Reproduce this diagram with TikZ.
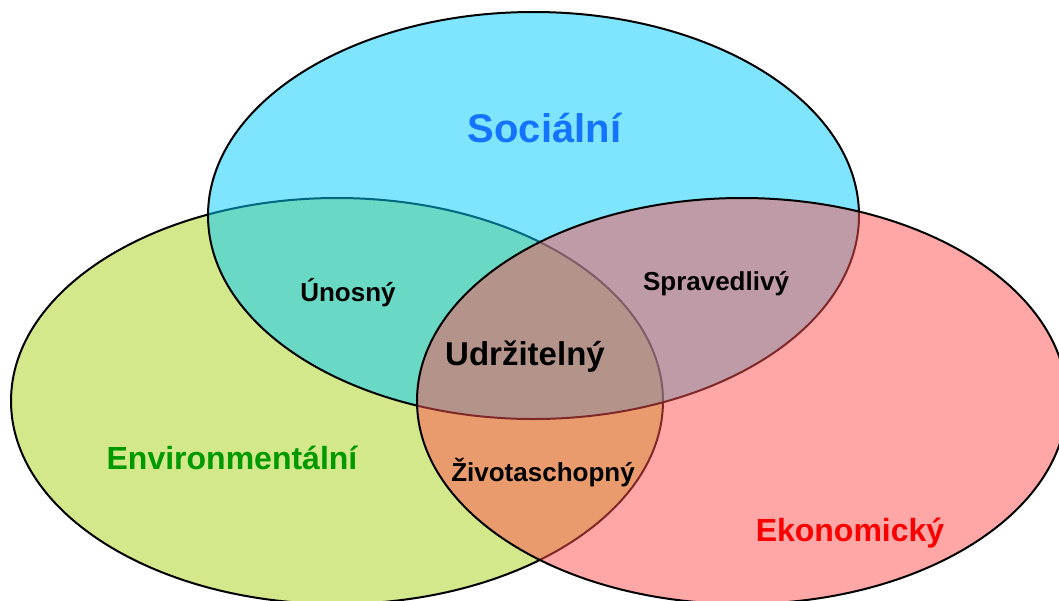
\documentclass[tikz,border=0pt]{standalone}
\usepackage{fontspec}
\setmainfont{Liberation Sans}
\definecolor{envfill}{RGB}{169,209,25}
\definecolor{socfill}{RGB}{0,205,255}
\definecolor{ekofill}{RGB}{255,81,81}
\definecolor{soctext}{RGB}{20,115,255}
\definecolor{envtext}{RGB}{0,153,0}
\definecolor{ekotext}{RGB}{250,0,0}
\tikzset{
  circlepath/.style={draw=black, line width=2pt, fill opacity=0.5},
  biglabel/.style={font=\bfseries\fontsize{32}{36}\selectfont, anchor=base, inner sep=0pt},
  toplabel/.style={font=\bfseries\fontsize{40}{44}\selectfont, anchor=base, inner sep=0pt},
  smalllabel/.style={font=\bfseries\fontsize{26}{30}\selectfont, anchor=base, inner sep=0pt, text=black}
}
\begin{document}
\begin{tikzpicture}[x=1pt,y=-1pt]
\clip (0,0) rectangle (1059,600);
\fill[white] (0,0) rectangle (1059,600);
% ellipses: green, cyan, pink (drawing order)
\draw[circlepath, fill=envfill] (337,401) ellipse [x radius=326pt, y radius=203pt];
\draw[circlepath, fill=socfill] (533.5,215.5) ellipse [x radius=325.5pt, y radius=203.5pt];
\draw[circlepath, fill=ekofill] (742,401) ellipse [x radius=325pt, y radius=203pt];
% labels
\node[toplabel, text=soctext] (soc) at (544.5,142) {Sociální};
\node[biglabel, text=envtext] (env) at (232,469) {Environmentální};
\node[biglabel, text=ekotext] (eko) at (850,541) {Ekonomický};
\node[biglabel, text=black, font=\bfseries\fontsize{33}{37}\selectfont] (udr) at (525,365) {Udržitelný};
\node[smalllabel] (uno) at (348,301) {Únosný};
\node[smalllabel] (spr) at (716,290) {Spravedlivý};
\node[smalllabel] (ziv) at (543,481) {Životaschopný};
\end{tikzpicture}
\end{document}
